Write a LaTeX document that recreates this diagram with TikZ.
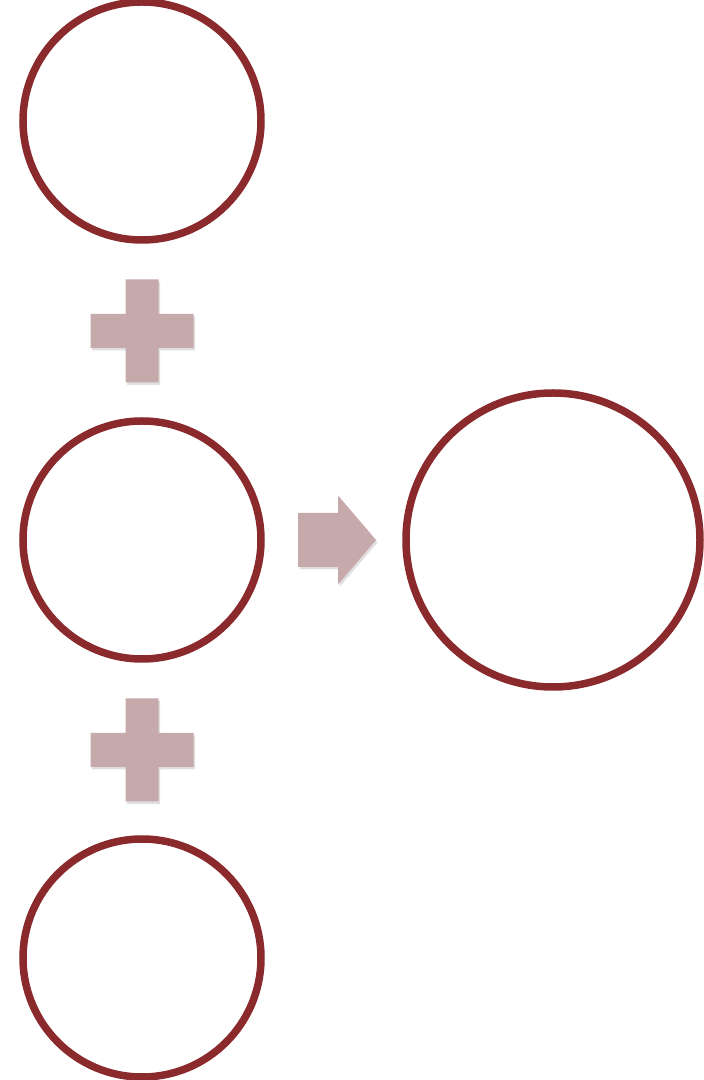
\documentclass[tikz,border=0pt]{standalone}
\usepackage{tikz}
\usetikzlibrary{positioning, shadows}
\definecolor{ringred}{HTML}{8A2A2D}
\definecolor{softrose}{HTML}{C6A9AB}
\tikzset{x=1pt, y=1pt,
ring/.style={circle, draw=ringred, line width=7.5pt, fill=white, inner sep=0pt,
  drop shadow={opacity=0.2, shadow xshift=1pt, shadow yshift=-2.5pt}},
softshadow/.style={drop shadow={opacity=0.25, shadow xshift=1.5pt, shadow yshift=-2.5pt}},
}

\begin{document}
\begin{tikzpicture}
            \useasboundingbox (0,0) rectangle (704,1080);
            \node[ring, minimum size=238pt](top) at (142,959) {};
            \node[ring, minimum size=238pt](mid) at (142,540) {};
            \node[ring, minimum size=238pt](bot) at (142,122) {};
            \node[ring, minimum size=294pt](res) at (553,540) {};

            % plus signs between the rings
            \coordinate (p1) at (142,749);
            \coordinate (p2) at (142,330);
            \foreach \p in {p1,p2}
              \fill[softrose, softshadow] ([shift={(-16.5,51.5)}]\p) -- ++(33,0) -- ++(0,-34.5)
                -- ++(35,0) -- ++(0,-34) -- ++(-35,0) -- ++(0,-34.5) -- ++(-33,0)
                -- ++(0,34.5) -- ++(-35,0) -- ++(0,34) -- ++(35,0) -- cycle;

            % arrow from the middle ring to the result
            \coordinate (arr) at (298,540);
            \fill[softrose, softshadow] ([yshift=27]arr) -- ++(40,0) -- ++(0,17.5)
                -- ++(38,-44.5) -- ++(-38,-44.5) -- ++(0,17.5) -- ++(-40,0) -- cycle;
        \end{tikzpicture}
\end{document}
